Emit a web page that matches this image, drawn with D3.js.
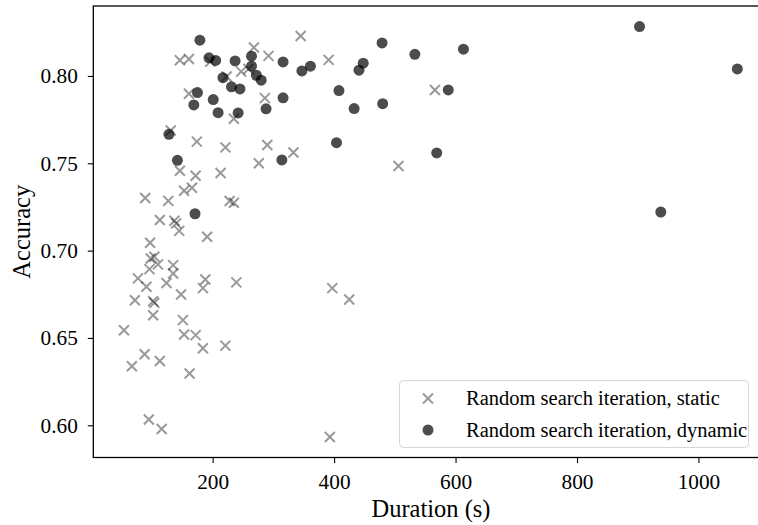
<!DOCTYPE html>
<html>
<head>
<meta charset="utf-8">
<script src="https://cdn.jsdelivr.net/npm/d3@7"></script>
<style>
  html, body { margin: 0; padding: 0; background: #fff; }
  svg { display: block; }
  text { font-family: "Liberation Serif", "DejaVu Serif", serif; fill: #000; }
</style>
</head>
<body>
<script>
// ---- data ----
const staticDuration = [146,161,196,268,292,247,259,223,161,286,235,131,174,221,290,276,146,172,213,333,345,391,566,506,153,166,89,127,228,235,113,137,140,145,191,97,98,104,110,96,135,135,124,77,91,188,184,239,148,72,102,104,102,151,54,153,172,184,221,88,67,113,162,95,116,397,425,393];
const staticAccuracy = [0.8090,0.8097,0.8082,0.8163,0.8115,0.8025,0.8040,0.7997,0.7898,0.7873,0.7755,0.7688,0.7624,0.7591,0.7605,0.7500,0.7457,0.7429,0.7444,0.7562,0.8229,0.8092,0.7920,0.7484,0.7343,0.7360,0.7301,0.7285,0.7284,0.7274,0.7175,0.7171,0.7156,0.7113,0.7079,0.7045,0.6955,0.6965,0.6921,0.6894,0.6917,0.6869,0.6815,0.6841,0.6793,0.6835,0.6785,0.6818,0.6749,0.6716,0.6711,0.6701,0.6630,0.6602,0.6544,0.6520,0.6516,0.6441,0.6456,0.6407,0.6338,0.6368,0.6296,0.6033,0.5979,0.6785,0.6720,0.5933];
const dynamicDuration = [179,194,205,237,264,264,316,217,272,280,231,245,175,169,201,209,242,288,316,128,142,314,347,361,408,433,480,448,441,479,533,613,588,404,569,903,1064,938,171];
const dynamicAccuracy = [0.8205,0.8104,0.8089,0.8086,0.8113,0.8056,0.8080,0.7990,0.8004,0.7976,0.7938,0.7926,0.7905,0.7834,0.7865,0.7790,0.7788,0.7812,0.7875,0.7666,0.7517,0.7519,0.8029,0.8056,0.7916,0.7813,0.7841,0.8073,0.8033,0.8189,0.8124,0.8153,0.7920,0.7618,0.7559,0.8283,0.8040,0.7221,0.7211];
const xTicks = [200, 400, 600, 800, 1000];
const yTicks = [0.60, 0.65, 0.70, 0.75, 0.80];
const seriesLabels = ["Random search iteration, static", "Random search iteration, dynamic"];
const xLabel = "Duration (s)";
const yLabel = "Accuracy";

// ---- layout ----
const W = 758, H = 525;
const plot = { left: 93.3, right: 768, top: 6, bottom: 457.5 };
const FS_TICK = 21.3, FS_LABEL = 24.5, FS_LEG = 20.5;

const svg = d3.select("body").append("svg").attr("width", W).attr("height", H);

function padded(vals) {
  const mn = d3.min(vals), mx = d3.max(vals), r = mx - mn;
  return [mn - 0.05 * r, mx + 0.05 * r];
}
const allX = staticDuration.concat(dynamicDuration);
const allY = staticAccuracy.concat(dynamicAccuracy);
const x = d3.scaleLinear().domain(padded(allX)).range([plot.left, plot.right]);
const y = d3.scaleLinear().domain(padded(allY)).range([plot.bottom, plot.top]);

// axes
const xAxis = svg.append("g").attr("transform", `translate(0,${plot.bottom})`)
  .call(d3.axisBottom(x).tickValues(xTicks).tickFormat(d3.format("d")).tickSize(5.5).tickPadding(10.5));
const yAxis = svg.append("g").attr("transform", `translate(${plot.left},0)`)
  .call(d3.axisLeft(y).tickValues(yTicks).tickFormat(d3.format(".2f")).tickSize(5.5).tickPadding(10));
[xAxis, yAxis].forEach(g => {
  g.select(".domain").remove();
  g.selectAll(".tick line").attr("stroke", "#000").attr("stroke-width", 1.1);
  g.selectAll(".tick text").style("font-size", FS_TICK + "px").style("font-family", '"Liberation Serif", serif').attr("fill", "#000");
});

// frame
svg.append("rect")
  .attr("x", plot.left).attr("y", plot.top)
  .attr("width", plot.right - plot.left).attr("height", plot.bottom - plot.top)
  .attr("fill", "none").attr("stroke", "#000").attr("stroke-width", 1.3);

// static crosses
const cs = 5;
function crossPath(cx, cy) {
  return `M${cx - cs},${cy - cs}L${cx + cs},${cy + cs}M${cx - cs},${cy + cs}L${cx + cs},${cy - cs}`;
}
svg.append("g").selectAll("path")
  .data(d3.range(staticDuration.length))
  .join("path")
  .attr("d", i => crossPath(x(staticDuration[i]), y(staticAccuracy[i])))
  .attr("stroke", "#000").attr("stroke-opacity", 0.4).attr("stroke-width", 2).attr("fill", "none");

// dynamic dots
svg.append("g").selectAll("circle")
  .data(d3.range(dynamicDuration.length))
  .join("circle")
  .attr("cx", i => x(dynamicDuration[i]))
  .attr("cy", i => y(dynamicAccuracy[i]))
  .attr("r", 5.5)
  .attr("fill", "#000").attr("fill-opacity", 0.7);

// axis labels
svg.append("text").attr("x", 431).attr("y", 517)
  .attr("text-anchor", "middle").style("font-size", FS_LABEL + "px").text(xLabel);
svg.append("text")
  .attr("transform", `translate(30,${(plot.top + plot.bottom) / 2}) rotate(-90)`)
  .attr("text-anchor", "middle").style("font-size", FS_LABEL + "px").text(yLabel);

// legend
const lg = svg.append("g");
lg.append("rect").attr("x", 399.5).attr("y", 380.5).attr("width", 349).attr("height", 67)
  .attr("rx", 4).attr("fill", "#fff").attr("fill-opacity", 0.8)
  .attr("stroke", "#d5d5d5").attr("stroke-width", 1);
const rows = [398.5, 430];
lg.append("path").attr("d", crossPath(428, rows[0]))
  .attr("stroke", "#000").attr("stroke-opacity", 0.4).attr("stroke-width", 2);
lg.append("circle").attr("cx", 428).attr("cy", rows[1]).attr("r", 5.5)
  .attr("fill", "#000").attr("fill-opacity", 0.7);
seriesLabels.forEach((t, i) => {
  lg.append("text").attr("x", 466).attr("y", rows[i]).attr("dy", "0.33em")
    .style("font-size", FS_LEG + "px").text(t);
});
</script>
</body>
</html>
